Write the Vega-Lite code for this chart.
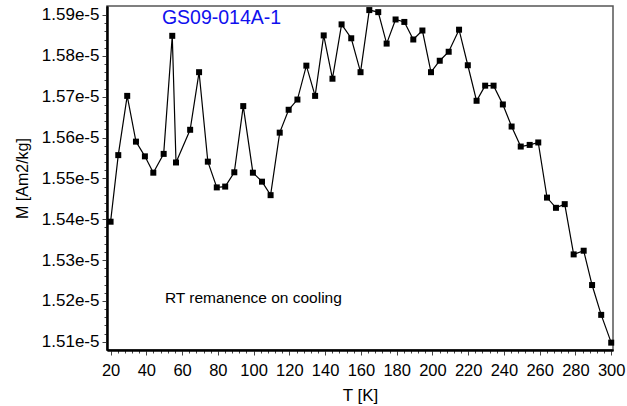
{
  "$schema": "https://vega.github.io/schema/vega-lite/v6.json",
  "width": 506,
  "height": 344,
  "autosize": {"type": "none"},
  "padding": {"left": 107, "top": 6, "right": 14, "bottom": 56},
  "background": "white",
  "config": {
    "font": "Liberation Sans",
    "view": {"stroke": "#555555", "strokeWidth": 1.5},
    "axis": {"grid": false, "labelFont": "Liberation Sans", "titleFont": "Liberation Sans", "labelColor": "black", "titleColor": "black", "labelFontSize": 16, "titleFontSize": 16, "titleFontWeight": "normal", "domainColor": "black", "tickColor": "#444444"}
  },
  "datasets": {
    "m": [
      {"T": 20.0, "M": 1.5394e-5}, {"T": 24.3, "M": 1.5557e-5}, {"T": 29.3, "M": 1.5702e-5},
      {"T": 34.2, "M": 1.5590e-5}, {"T": 39.2, "M": 1.5554e-5}, {"T": 43.9, "M": 1.5514e-5},
      {"T": 49.7, "M": 1.5560e-5}, {"T": 54.5, "M": 1.5849e-5}, {"T": 56.6, "M": 1.5539e-5},
      {"T": 64.5, "M": 1.5619e-5}, {"T": 69.5, "M": 1.5760e-5}, {"T": 74.4, "M": 1.5541e-5},
      {"T": 79.4, "M": 1.5478e-5}, {"T": 84.1, "M": 1.5480e-5}, {"T": 89.2, "M": 1.5515e-5},
      {"T": 94.2, "M": 1.5677e-5}, {"T": 99.6, "M": 1.5514e-5}, {"T": 104.7, "M": 1.5492e-5},
      {"T": 109.5, "M": 1.5459e-5}, {"T": 114.6, "M": 1.5612e-5}, {"T": 119.6, "M": 1.5668e-5},
      {"T": 124.5, "M": 1.5693e-5}, {"T": 129.5, "M": 1.5776e-5}, {"T": 134.4, "M": 1.5702e-5},
      {"T": 139.2, "M": 1.5850e-5}, {"T": 144.1, "M": 1.5744e-5}, {"T": 149.2, "M": 1.5877e-5},
      {"T": 154.6, "M": 1.5843e-5}, {"T": 159.8, "M": 1.5760e-5}, {"T": 164.7, "M": 1.5912e-5},
      {"T": 169.7, "M": 1.5907e-5}, {"T": 174.4, "M": 1.5830e-5}, {"T": 179.4, "M": 1.5889e-5},
      {"T": 184.3, "M": 1.5883e-5}, {"T": 189.3, "M": 1.5840e-5}, {"T": 194.4, "M": 1.5862e-5},
      {"T": 199.2, "M": 1.5760e-5}, {"T": 204.1, "M": 1.5788e-5}, {"T": 209.1, "M": 1.5810e-5},
      {"T": 214.9, "M": 1.5864e-5}, {"T": 219.8, "M": 1.5777e-5}, {"T": 224.7, "M": 1.5690e-5},
      {"T": 229.5, "M": 1.5727e-5}, {"T": 234.2, "M": 1.5727e-5}, {"T": 239.4, "M": 1.5681e-5},
      {"T": 244.3, "M": 1.5627e-5}, {"T": 249.4, "M": 1.5578e-5}, {"T": 254.4, "M": 1.5582e-5},
      {"T": 259.2, "M": 1.5588e-5}, {"T": 264.1, "M": 1.5453e-5}, {"T": 269.1, "M": 1.5428e-5},
      {"T": 274.0, "M": 1.5437e-5}, {"T": 279.0, "M": 1.5314e-5}, {"T": 284.6, "M": 1.5323e-5},
      {"T": 289.3, "M": 1.5239e-5}, {"T": 294.4, "M": 1.5166e-5}, {"T": 300.0, "M": 1.5098e-5}
    ],
    "labels": [
      {"T": 48.7, "M": 1.5893e-5, "text": "GS09-014A-1", "kind": "title"},
      {"T": 50.4, "M": 1.5208e-5, "text": "RT remanence on cooling", "kind": "note"}
    ]
  },
  "resolve": {"axis": {"x": "independent", "y": "independent"}},
  "layer": [
    {
      "data": {"name": "m"},
      "mark": {"type": "line", "color": "black", "strokeWidth": 1.2},
      "encoding": {
        "x": {"field": "T", "type": "quantitative", "scale": {"domain": [18.0, 301.0], "nice": false, "zero": false},
              "axis": {"orient": "bottom", "values": [24,28,32,36,44,48,52,56,64,68,72,76,84,88,92,96,104,108,112,116,124,128,132,136,144,148,152,156,164,168,172,176,184,188,192,196,204,208,212,216,224,228,232,236,244,248,252,256,264,268,272,276,284,288,292,296], "labels": false, "title": null, "tickSize": 3, "domainWidth": 2}},
        "y": {"field": "M", "type": "quantitative", "scale": {"domain": [1.5080e-5, 1.5922e-5], "nice": false, "zero": false},
              "axis": {"orient": "left", "values": [1.512e-5,1.514e-5,1.516e-5,1.518e-5,1.522e-5,1.524e-5,1.526e-5,1.528e-5,1.532e-5,1.534e-5,1.536e-5,1.538e-5,1.542e-5,1.544e-5,1.546e-5,1.548e-5,1.552e-5,1.554e-5,1.556e-5,1.558e-5,1.562e-5,1.564e-5,1.566e-5,1.568e-5,1.572e-5,1.574e-5,1.576e-5,1.578e-5,1.582e-5,1.584e-5,1.586e-5,1.588e-5], "labels": false, "title": null, "tickSize": 3, "domainWidth": 2}}
      }
    },
    {
      "data": {"name": "m"},
      "mark": {"type": "square", "color": "black", "filled": true, "opacity": 1, "size": 36},
      "encoding": {
        "x": {"field": "T", "type": "quantitative",
              "axis": {"orient": "bottom", "values": [20,40,60,80,100,120,140,160,180,200,220,240,260,280,300], "title": "T [K]", "tickSize": 5, "labelPadding": 7, "titlePadding": 9, "labelFontSize": 16.5, "titleFontSize": 17, "domainWidth": 2}},
        "y": {"field": "M", "type": "quantitative",
              "axis": {"orient": "left", "values": [1.51e-5,1.52e-5,1.53e-5,1.54e-5,1.55e-5,1.56e-5,1.57e-5,1.58e-5,1.59e-5], "format": ".2e", "title": "M [Am2/kg]", "tickSize": 5, "labelPadding": 3, "titlePadding": 11, "labelFontSize": 17, "titleFontSize": 16, "domainWidth": 2}}
      }
    },
    {
      "data": {"name": "labels"},
      "mark": {"type": "text", "align": "left", "baseline": "middle"},
      "encoding": {
        "x": {"field": "T", "type": "quantitative", "axis": null},
        "y": {"field": "M", "type": "quantitative", "axis": null},
        "text": {"field": "text"},
        "color": {"field": "kind", "type": "nominal", "scale": {"domain": ["title", "note"], "range": ["#1010ee", "black"]}, "legend": null},
        "size": {"field": "kind", "type": "nominal", "scale": {"domain": ["title", "note"], "range": [19.5, 15.5]}, "legend": null}
      }
    }
  ]
}
